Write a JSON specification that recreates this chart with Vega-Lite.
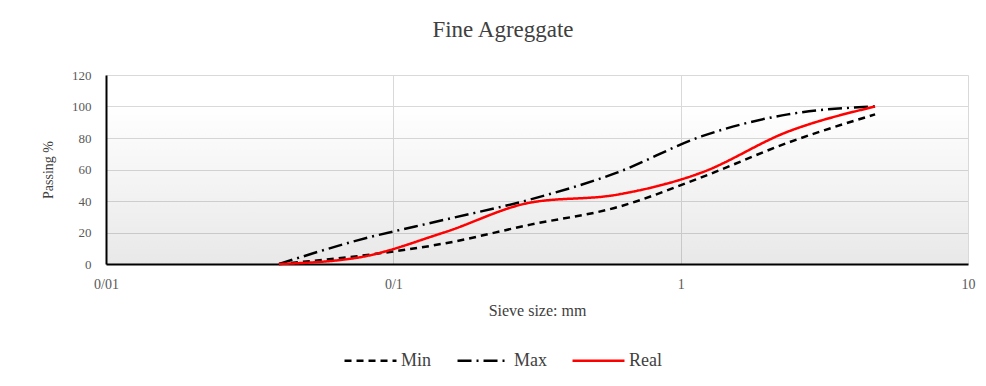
{
  "$schema": "https://vega.github.io/schema/vega-lite/v6.json",
  "width": 862,
  "height": 189,
  "autosize": "none",
  "padding": {"left": 106, "top": 75, "right": 18, "bottom": 122},
  "background": "white",
  "title": {
    "text": "Fine Agreggate",
    "font": "Liberation Serif",
    "fontSize": 23,
    "fontWeight": "normal",
    "color": "#404040",
    "anchor": "middle",
    "dx": -34,
    "offset": 27
  },
  "config": {
    "view": {"stroke": null},
    "font": "Liberation Serif",
    "axisX": {
      "titleFont": "Liberation Serif",
      "titleFontSize": 16,
      "titleFontWeight": "normal",
      "titleColor": "#404040",
      "titlePadding": 11,
      "labelFont": "Liberation Serif",
      "labelFontSize": 14,
      "labelColor": "#595959",
      "labelPadding": 13,
      "labelFlush": false,
      "ticks": false,
      "grid": true,
      "domainColor": "#000000",
      "domainWidth": 2,
      "gridColor": "#d9d9d9",
      "gridWidth": 1
    },
    "axisY": {
      "titleFont": "Liberation Serif",
      "titleFontSize": 14,
      "titleFontWeight": "normal",
      "titleColor": "#404040",
      "titlePadding": 16,
      "labelFont": "Liberation Serif",
      "labelFontSize": 13,
      "labelColor": "#595959",
      "labelPadding": 15,
      "ticks": false,
      "grid": true,
      "domainColor": "#000000",
      "domainWidth": 2,
      "gridColor": "#d9d9d9",
      "gridWidth": 1
    }
  },
  "datasets": {
    "grading": [
      {"size": 0.04, "series": "Min", "passing": 0},
      {"size": 0.075, "series": "Min", "passing": 5},
      {"size": 0.15, "series": "Min", "passing": 13},
      {"size": 0.3, "series": "Min", "passing": 25},
      {"size": 0.6, "series": "Min", "passing": 36},
      {"size": 1.18, "series": "Min", "passing": 55},
      {"size": 2.36, "series": "Min", "passing": 77},
      {"size": 4.75, "series": "Min", "passing": 95},
      {"size": 0.04, "series": "Max", "passing": 0},
      {"size": 0.075, "series": "Max", "passing": 15},
      {"size": 0.15, "series": "Max", "passing": 28},
      {"size": 0.3, "series": "Max", "passing": 41},
      {"size": 0.6, "series": "Max", "passing": 58},
      {"size": 1.18, "series": "Max", "passing": 81},
      {"size": 2.36, "series": "Max", "passing": 95},
      {"size": 4.75, "series": "Max", "passing": 100},
      {"size": 0.04, "series": "Real", "passing": 0},
      {"size": 0.075, "series": "Real", "passing": 4},
      {"size": 0.15, "series": "Real", "passing": 20},
      {"size": 0.3, "series": "Real", "passing": 39},
      {"size": 0.6, "series": "Real", "passing": 44},
      {"size": 1.18, "series": "Real", "passing": 58},
      {"size": 2.36, "series": "Real", "passing": 84},
      {"size": 4.75, "series": "Real", "passing": 100}
    ]
  },
  "layer": [
    {
      "data": {"values": [{"band": "plot"}]},
      "mark": {
        "type": "rect",
        "color": {
          "gradient": "linear",
          "x1": 0, "y1": 0, "x2": 0, "y2": 1,
          "stops": [
            {"offset": 0, "color": "rgba(0,0,0,0)"},
            {"offset": 0.15, "color": "rgba(0,0,0,0)"},
            {"offset": 1, "color": "rgba(0,0,0,0.09)"}
          ]
        }
      },
      "encoding": {
        "x": {
          "datum": 0.01, "type": "quantitative",
          "scale": {"type": "log", "domain": [0.01, 10], "nice": false},
          "axis": {"title": "Sieve size: mm", "values": [0.01, 0.1, 1, 10], "labelExpr": "replace(format(datum.value, '~g'), '.', '/')", "grid": true}
        },
        "x2": {"datum": 10},
        "y": {
          "datum": 0, "type": "quantitative",
          "scale": {"domain": [0, 120], "nice": false},
          "axis": {"title": "Passing %", "values": [0, 20, 40, 60, 80, 100, 120], "grid": true}
        },
        "y2": {"datum": 120}
      }
    },
    {
      "data": {"name": "grading"},
      "mark": {"type": "line", "strokeWidth": 2.5, "interpolate": "monotone"},
      "encoding": {
        "x": {
          "field": "size",
          "type": "quantitative",
          "scale": {"type": "log", "domain": [0.01, 10], "nice": false},
          "axis": {"title": "Sieve size: mm", "values": [0.01, 0.1, 1, 10], "labelExpr": "replace(format(datum.value, '~g'), '.', '/')", "grid": true}
        },
        "y": {
          "field": "passing",
          "type": "quantitative",
          "scale": {"domain": [0, 120], "nice": false},
          "axis": {"title": "Passing %", "values": [0, 20, 40, 60, 80, 100, 120], "grid": true}
        },
        "color": {
          "field": "series",
          "type": "nominal",
          "scale": {"domain": ["Min", "Max", "Real"], "range": ["#000000", "#000000", "#ff0000"]},
          "legend": {
            "title": null,
            "orient": "none",
            "legendX": 237,
            "legendY": 258,
            "direction": "horizontal",
            "symbolType": "stroke",
            "symbolSize": 2700,
            "symbolStrokeWidth": 2.5,
            "labelFont": "Liberation Serif",
            "labelFontSize": 18,
            "labelColor": "#404040",
            "labelOffset": 3,
            "columnPadding": 20
          }
        },
        "strokeDash": {
          "field": "series",
          "type": "nominal",
          "scale": {"domain": ["Min", "Max", "Real"], "range": [[7, 5], [14, 5, 2, 5], [1, 0]]},
          "legend": null
        }
      }
    }
  ]
}
